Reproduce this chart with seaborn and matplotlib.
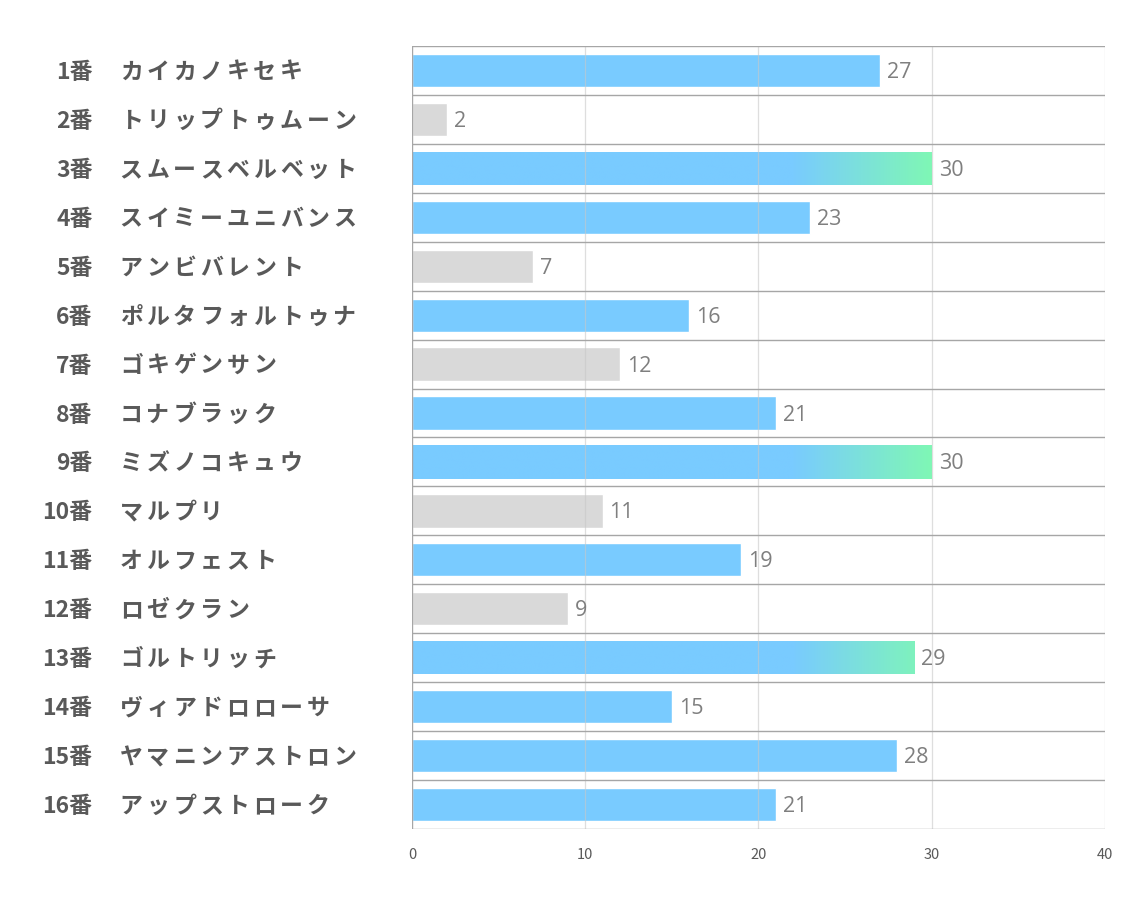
import matplotlib
matplotlib.use("Agg")
import matplotlib.pyplot as plt
import seaborn as sns
import numpy as np
import pandas as pd
from matplotlib.colors import LinearSegmentedColormap
from matplotlib.transforms import offset_copy

# === data ===
numbers = ["1番", "2番", "3番", "4番", "5番", "6番", "7番", "8番",
           "9番", "10番", "11番", "12番", "13番", "14番", "15番", "16番"]
names = ["カイカノキセキ", "トリップトゥムーン", "スムースベルベット", "スイミーユニバンス",
         "アンビバレント", "ポルタフォルトゥナ", "ゴキゲンサン", "コナブラック",
         "ミズノコキュウ", "マルプリ", "オルフェスト", "ロゼクラン",
         "ゴルトリッチ", "ヴィアドロローサ", "ヤマニンアストロン", "アップストローク"]
values = [27, 2, 30, 23, 7, 16, 12, 21, 30, 11, 19, 9, 29, 15, 28, 21]
kind = ["blue", "gray", "grad", "blue", "gray", "blue", "gray", "blue",
        "grad", "gray", "blue", "gray", "grad", "blue", "blue", "blue"]

BLUE = "#79CBFF"
GRAY = "#D9D9D9"
GREEN = "#7FF7B5"
palette = {"blue": BLUE, "gray": GRAY, "grad": BLUE}

df = pd.DataFrame({"label": [n + nm for n, nm in zip(numbers, names)],
                   "value": values, "kind": kind})

sns.set_style("white")
plt.rcParams['font.family'] = ['Noto Sans CJK JP', 'DejaVu Sans']

fig = plt.figure(figsize=(11.34, 9.07), dpi=100)
ax = fig.add_axes([0.3633, 0.0860, 0.6111, 0.8633])

sns.barplot(data=df, x="value", y="label", hue="kind", palette=palette,
            orient="h", width=0.68, legend=False, dodge=False, saturation=1,
            ax=ax, zorder=2)

# gradient overlay on the top-scoring bars (blue until ~22, green at 30)
cmap = LinearSegmentedColormap.from_list("bg", [(0, BLUE), (22 / 30, BLUE), (1, GREEN)])
grad = np.linspace(0, 1, 512).reshape(1, -1)
for p in ax.patches:
    y0 = p.get_y()
    h = p.get_height()
    i = int(round(y0 + h / 2))
    if kind[i] == "grad":
        im = ax.imshow(grad, cmap=cmap, extent=(0, 30, y0 + h, y0),
                       aspect="auto", zorder=3, interpolation="bilinear")
        im.set_clip_path(p)

ax.set_xlim(0, 40)
ax.set_ylim(15.5, -0.5)
ax.set_aspect("auto")

# grid lines
for xv in [10, 20, 30, 40]:
    ax.axvline(xv, color="#C8C8C8", lw=0.9, zorder=4, alpha=0.6)
for yv in np.arange(-0.5, 16, 1):
    ax.axhline(yv, color="#A6A6A6", lw=1.0, zorder=4)
ax.axvline(0, color="#A6A6A6", lw=1.0, zorder=4)

for s in ax.spines.values():
    s.set_visible(False)

# value labels
vtr = offset_copy(ax.transData, fig=fig, x=0, y=-2, units="dots")
for i, v in enumerate(values):
    ax.text(v + 0.4, i, str(v), transform=vtr, va="center", ha="left", fontsize=15.5,
            color="#7F7F7F", family=['Open Sans', 'DejaVu Sans'], zorder=5)

# y labels: number and name (name drawn with wide, even character spacing)
ax.set_yticks([])
ax.set_ylabel("")
ax.set_xlabel("")
ytr = ax.get_yaxis_transform()
step = 26.7  # pixels per character
ntr = offset_copy(ytr, fig=fig, x=0, y=-2, units="dots")
for i, (n, nm) in enumerate(zip(numbers, names)):
    ax.text(-0.461, i, n, transform=ntr, ha="right", va="center",
            fontsize=16.5, fontweight="bold", color="#595959")
    for k, ch in enumerate(nm):
        tr = offset_copy(ytr, fig=fig, x=step * k + step / 2, y=-2, units="dots")
        ax.text(-0.4245, i, ch, transform=tr, ha="center", va="center",
                fontsize=16.5, fontweight="bold", color="#595959")

ax.set_xticks([0, 10, 20, 30, 40])
ax.set_xticklabels(["0", "10", "20", "30", "40"])
ax.tick_params(axis="x", length=0, pad=14, labelsize=10.5, labelcolor="#595959")

fig.savefig("out.png", dpi=100, facecolor="white")
